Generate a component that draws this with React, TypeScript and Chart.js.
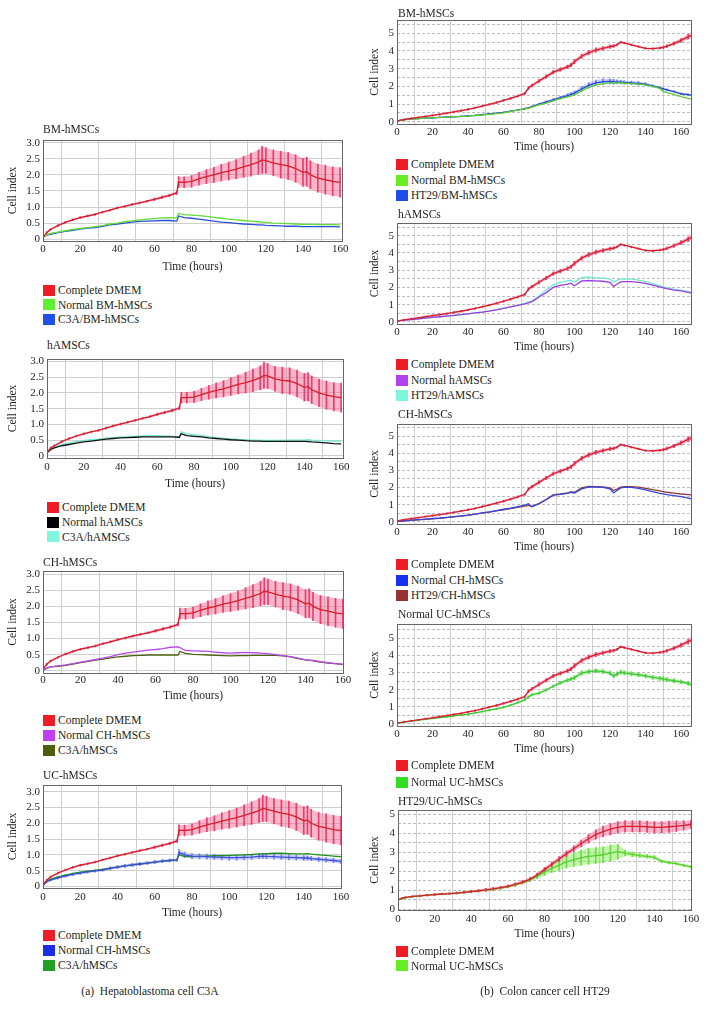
import React, { useEffect, useRef } from 'react';
import { Chart, registerables } from 'chart.js';
Chart.register(...registerables);

const FONT = "'Liberation Serif', 'Times New Roman', serif";
const TXT = '#231f20';

// ---------- tick labels ----------
const X_TICKS = [0, 20, 40, 60, 80, 100, 120, 140, 160];
const Y_TICKS_C3A = [0, 0.5, 1, 1.5, 2, 2.5, 3];
const Y_TICKS_HT29 = [0, 0.5, 1, 1.5, 2, 2.5, 3, 3.5, 4, 4.5, 5, 5.5];
const Y_TICKS_HT29_UC = [0, 0.5, 1, 1.5, 2, 2.5, 3, 3.5, 4, 4.5, 5];

// ---------- (a) Hepatoblastoma cell C3A ----------
const T_C3A = [0, 2, 4, 8, 12, 16, 20, 24, 28, 32, 36, 40, 44, 48, 52, 56, 60, 64, 68, 72, 73, 76, 80, 84, 88, 92, 96, 100, 104, 108, 112, 116, 118, 120, 124, 128, 132, 136, 140, 142, 144, 148, 152, 156, 160];

const C3A_CTRL = [0.05, 0.2, 0.3, 0.42, 0.52, 0.6, 0.67, 0.72, 0.77, 0.84, 0.9, 0.97, 1.02, 1.08, 1.13, 1.18, 1.24, 1.3, 1.36, 1.44, 1.78, 1.77, 1.8, 1.88, 1.95, 2.0, 2.07, 2.12, 2.18, 2.25, 2.32, 2.4, 2.47, 2.45, 2.38, 2.32, 2.28, 2.2, 2.08, 2.1, 2.0, 1.9, 1.85, 1.8, 1.77];
const C3A_CTRL_ERR = [0.02, 0.03, 0.03, 0.03, 0.03, 0.03, 0.03, 0.03, 0.03, 0.03, 0.03, 0.03, 0.03, 0.03, 0.03, 0.03, 0.04, 0.04, 0.04, 0.05, 0.17, 0.17, 0.18, 0.2, 0.22, 0.24, 0.26, 0.28, 0.3, 0.33, 0.36, 0.38, 0.42, 0.4, 0.4, 0.42, 0.42, 0.43, 0.44, 0.45, 0.44, 0.44, 0.45, 0.45, 0.46];
const C3A_CTRL_HA = [0.1, 0.25, 0.32, 0.45, 0.55, 0.63, 0.7, 0.76, 0.81, 0.88, 0.95, 1.01, 1.07, 1.13, 1.19, 1.25, 1.32, 1.38, 1.44, 1.52, 1.85, 1.85, 1.87, 1.95, 2.02, 2.08, 2.13, 2.2, 2.27, 2.33, 2.4, 2.48, 2.56, 2.54, 2.45, 2.4, 2.38, 2.3, 2.18, 2.2, 2.1, 2.0, 1.93, 1.88, 1.85];

const BM_NORMAL_C3A = [0.05, 0.13, 0.18, 0.22, 0.26, 0.3, 0.33, 0.36, 0.39, 0.42, 0.47, 0.5, 0.54, 0.57, 0.6, 0.62, 0.64, 0.66, 0.67, 0.66, 0.8, 0.76, 0.75, 0.73, 0.71, 0.68, 0.65, 0.62, 0.6, 0.58, 0.56, 0.54, 0.53, 0.52, 0.5, 0.49, 0.48, 0.47, 0.46, 0.46, 0.46, 0.45, 0.45, 0.45, 0.44];
const BM_C3A = [0.05, 0.12, 0.15, 0.2, 0.24, 0.27, 0.31, 0.34, 0.36, 0.4, 0.44, 0.47, 0.5, 0.53, 0.55, 0.56, 0.57, 0.58, 0.58, 0.56, 0.72, 0.67, 0.65, 0.62, 0.59, 0.56, 0.53, 0.51, 0.49, 0.47, 0.46, 0.44, 0.44, 0.43, 0.42, 0.41, 0.4, 0.4, 0.39, 0.39, 0.39, 0.39, 0.39, 0.39, 0.38];

const HA_NORMAL_C3A = [0.1, 0.2, 0.25, 0.32, 0.36, 0.4, 0.44, 0.47, 0.5, 0.53, 0.55, 0.57, 0.58, 0.59, 0.6, 0.6, 0.6, 0.6, 0.6, 0.59, 0.7, 0.64, 0.62, 0.6, 0.57, 0.55, 0.53, 0.51, 0.5, 0.48, 0.47, 0.47, 0.46, 0.46, 0.46, 0.46, 0.46, 0.46, 0.46, 0.45, 0.44, 0.43, 0.41, 0.39, 0.38];
const HA_C3A = [0.08, 0.22, 0.28, 0.36, 0.41, 0.45, 0.48, 0.51, 0.53, 0.56, 0.58, 0.6, 0.61, 0.62, 0.63, 0.64, 0.64, 0.63, 0.62, 0.6, 0.76, 0.7, 0.67, 0.64, 0.61, 0.58, 0.56, 0.54, 0.52, 0.51, 0.5, 0.5, 0.49, 0.49, 0.49, 0.5, 0.5, 0.5, 0.5, 0.51, 0.5, 0.49, 0.48, 0.47, 0.46];

const CH_NORMAL_C3A = [0.02, 0.08, 0.12, 0.15, 0.18, 0.22, 0.27, 0.31, 0.35, 0.39, 0.44, 0.5, 0.55, 0.58, 0.61, 0.64, 0.66, 0.69, 0.73, 0.74, 0.72, 0.63, 0.62, 0.61, 0.6, 0.58, 0.56, 0.55, 0.56, 0.57, 0.56, 0.55, 0.54, 0.53, 0.5, 0.47, 0.44, 0.39, 0.34, 0.33, 0.32, 0.28, 0.25, 0.22, 0.2];
const CH_C3A = [0.02, 0.08, 0.12, 0.14, 0.17, 0.21, 0.25, 0.29, 0.33, 0.36, 0.4, 0.43, 0.45, 0.47, 0.48, 0.49, 0.49, 0.49, 0.49, 0.49, 0.6, 0.54, 0.51, 0.5, 0.49, 0.48, 0.47, 0.46, 0.47, 0.47, 0.48, 0.48, 0.48, 0.48, 0.48, 0.46, 0.43, 0.38, 0.34, 0.33, 0.31, 0.27, 0.24, 0.22, 0.2];

const UC_NORMAL_C3A = [0.03, 0.15, 0.2, 0.27, 0.33, 0.38, 0.42, 0.46, 0.49, 0.52, 0.57, 0.61, 0.65, 0.68, 0.71, 0.74, 0.77, 0.8, 0.82, 0.84, 1.08, 1.0, 0.96, 0.95, 0.94, 0.93, 0.92, 0.91, 0.91, 0.92, 0.93, 0.95, 0.96, 0.95, 0.94, 0.93, 0.92, 0.91, 0.9, 0.9, 0.88, 0.86, 0.84, 0.82, 0.79];
const UC_NORMAL_C3A_ERR = [0.02, 0.03, 0.03, 0.04, 0.04, 0.04, 0.04, 0.04, 0.04, 0.04, 0.05, 0.05, 0.05, 0.05, 0.05, 0.05, 0.05, 0.05, 0.05, 0.05, 0.1, 0.09, 0.08, 0.08, 0.08, 0.08, 0.08, 0.08, 0.08, 0.08, 0.08, 0.08, 0.08, 0.08, 0.08, 0.08, 0.08, 0.08, 0.08, 0.07, 0.07, 0.07, 0.07, 0.07, 0.07];
const UC_C3A = [0.03, 0.17, 0.23, 0.3, 0.36, 0.41, 0.45, 0.48, 0.51, 0.54, 0.58, 0.62, 0.65, 0.68, 0.71, 0.74, 0.77, 0.8, 0.82, 0.84, 1.0, 0.95, 0.94, 0.95, 0.96, 0.97, 0.97, 0.98, 0.99, 1.0, 1.01, 1.03, 1.04, 1.04, 1.05, 1.05, 1.04, 1.03, 1.03, 1.04, 1.02, 1.0, 0.98, 0.96, 0.94];

// ---------- (b) Colon cancer cell HT29 ----------
const T_HT29 = [0, 4, 8, 12, 16, 20, 24, 28, 32, 36, 40, 44, 48, 52, 56, 60, 64, 68, 72, 74, 76, 80, 84, 88, 92, 96, 98, 100, 104, 108, 112, 116, 120, 122, 124, 126, 128, 132, 136, 140, 144, 148, 150, 152, 156, 160, 164, 166];

const HT29_CTRL = [0.05, 0.12, 0.18, 0.24, 0.3, 0.36, 0.42, 0.48, 0.55, 0.62, 0.7, 0.78, 0.88, 0.98, 1.08, 1.2, 1.32, 1.45, 1.6, 1.9, 2.05, 2.3, 2.55, 2.8, 2.95, 3.1, 3.2, 3.4, 3.7, 3.9, 4.05, 4.15, 4.25, 4.28, 4.35, 4.5, 4.45, 4.35, 4.25, 4.15, 4.13, 4.17, 4.2, 4.27, 4.42, 4.6, 4.8, 4.9];
const HT29_CTRL_ERR = [0.03, 0.04, 0.04, 0.04, 0.04, 0.05, 0.05, 0.05, 0.05, 0.05, 0.05, 0.05, 0.05, 0.05, 0.06, 0.06, 0.06, 0.06, 0.06, 0.08, 0.08, 0.1, 0.1, 0.1, 0.1, 0.1, 0.1, 0.12, 0.12, 0.12, 0.12, 0.1, 0.1, 0.08, 0.06, 0.05, 0.05, 0.05, 0.05, 0.05, 0.05, 0.06, 0.07, 0.08, 0.1, 0.12, 0.14, 0.15];

const BM_NORMAL_HT29 = [0.05, 0.1, 0.14, 0.17, 0.2, 0.22, 0.24, 0.26, 0.28, 0.3, 0.32, 0.35, 0.38, 0.42, 0.46, 0.5, 0.58, 0.65, 0.72, 0.76, 0.82, 0.95, 1.05, 1.18, 1.3, 1.4, 1.46, 1.52, 1.75, 1.95, 2.08, 2.15, 2.2, 2.2, 2.2, 2.19, 2.18, 2.15, 2.12, 2.08, 2.0, 1.88, 1.7, 1.65, 1.55, 1.42, 1.32, 1.28];
const BM_HT29 = [0.05, 0.12, 0.16, 0.18, 0.2, 0.22, 0.24, 0.26, 0.28, 0.3, 0.33, 0.36, 0.4, 0.44, 0.48, 0.53, 0.6, 0.66, 0.74, 0.78, 0.86, 1.0, 1.12, 1.24, 1.36, 1.48, 1.55, 1.62, 1.85, 2.05, 2.2, 2.27, 2.28, 2.26, 2.25, 2.24, 2.22, 2.2, 2.17, 2.12, 2.02, 1.92, 1.85, 1.8, 1.7, 1.58, 1.53, 1.5];
const BM_HT29_ERR = [0.02, 0.03, 0.03, 0.03, 0.03, 0.03, 0.03, 0.03, 0.03, 0.03, 0.03, 0.03, 0.03, 0.03, 0.03, 0.03, 0.04, 0.04, 0.04, 0.04, 0.04, 0.05, 0.06, 0.07, 0.08, 0.1, 0.1, 0.12, 0.15, 0.16, 0.16, 0.16, 0.15, 0.14, 0.12, 0.1, 0.1, 0.1, 0.1, 0.08, 0.07, 0.06, 0.06, 0.06, 0.05, 0.05, 0.05, 0.05];

const HA_NORMAL_HT29 = [0.05, 0.1, 0.14, 0.18, 0.22, 0.26, 0.3, 0.34, 0.38, 0.42, 0.47, 0.52, 0.57, 0.63, 0.7, 0.78, 0.87, 0.96, 1.05, 1.1, 1.18, 1.45, 1.7, 2.0, 2.12, 2.2, 2.25, 2.1, 2.38, 2.4, 2.38, 2.36, 2.3, 2.05, 2.2, 2.32, 2.34, 2.34, 2.3, 2.24, 2.14, 2.03, 1.98, 1.93, 1.85, 1.8, 1.72, 1.68];
const HA_HT29 = [0.05, 0.1, 0.14, 0.18, 0.22, 0.26, 0.3, 0.34, 0.38, 0.42, 0.47, 0.52, 0.57, 0.64, 0.71, 0.8, 0.88, 0.98, 1.08, 1.15, 1.22, 1.5, 1.85, 2.15, 2.3, 2.38, 2.42, 2.3, 2.58, 2.6, 2.57, 2.55, 2.48, 2.3, 2.42, 2.48, 2.5, 2.48, 2.42, 2.34, 2.22, 2.1, 2.04, 1.98, 1.9, 1.84, 1.76, 1.72];

const CH_NORMAL_HT29 = [0.02, 0.06, 0.1, 0.13, 0.16, 0.19, 0.22, 0.26, 0.3, 0.34, 0.39, 0.45, 0.52, 0.58, 0.65, 0.73, 0.8, 0.88, 0.97, 1.05, 0.88, 1.05, 1.28, 1.55, 1.6, 1.66, 1.72, 1.68, 1.92, 2.03, 2.02, 2.0, 1.92, 1.68, 1.82, 1.97, 2.0, 2.0, 1.95, 1.86, 1.76, 1.66, 1.62, 1.58, 1.52, 1.46, 1.38, 1.33];
const CH_HT29 = [0.02, 0.05, 0.08, 0.11, 0.14, 0.17, 0.2, 0.24, 0.28, 0.33, 0.38, 0.44, 0.5, 0.56, 0.63, 0.7, 0.77, 0.84, 0.91, 0.95, 0.88, 1.07, 1.3, 1.57, 1.62, 1.68, 1.74, 1.72, 1.98, 2.06, 2.05, 2.03, 1.97, 1.82, 1.9, 2.02, 2.05, 2.05, 2.02, 1.95, 1.87, 1.8, 1.76, 1.72, 1.67, 1.62, 1.58, 1.56];

const UC_NORMAL_HT29 = [0.02, 0.1, 0.16, 0.22, 0.27, 0.32, 0.37, 0.42, 0.47, 0.52, 0.57, 0.64, 0.72, 0.8, 0.88, 0.97, 1.1, 1.25, 1.4, 1.58, 1.7, 1.8, 1.98, 2.2, 2.4, 2.55, 2.62, 2.7, 2.97, 3.05, 3.1, 3.05, 2.96, 2.8, 2.92, 3.02, 2.98, 2.92, 2.87, 2.8, 2.72, 2.66, 2.63, 2.58, 2.52, 2.45, 2.36, 2.3];
const UC_NORMAL_HT29_ERR = [0.02, 0.03, 0.03, 0.03, 0.03, 0.03, 0.03, 0.04, 0.04, 0.04, 0.04, 0.04, 0.04, 0.05, 0.05, 0.05, 0.05, 0.05, 0.06, 0.06, 0.07, 0.08, 0.08, 0.08, 0.09, 0.1, 0.1, 0.12, 0.13, 0.13, 0.12, 0.12, 0.12, 0.12, 0.12, 0.12, 0.12, 0.12, 0.12, 0.12, 0.12, 0.12, 0.12, 0.12, 0.12, 0.12, 0.12, 0.12];

const T_HT29_UC = [0, 2, 4, 8, 12, 16, 20, 24, 28, 32, 36, 40, 44, 48, 52, 56, 60, 64, 68, 72, 76, 80, 84, 88, 92, 96, 100, 104, 108, 112, 116, 120, 124, 128, 132, 136, 140, 144, 148, 152, 156, 160];
const HT29_UC_CTRL = [0.5, 0.57, 0.62, 0.67, 0.7, 0.74, 0.77, 0.8, 0.82, 0.85, 0.89, 0.93, 0.97, 1.02, 1.07, 1.13, 1.2, 1.3, 1.42, 1.57, 1.8, 2.08, 2.36, 2.64, 2.92, 3.18, 3.45, 3.7, 3.92, 4.08, 4.2, 4.3, 4.35, 4.35, 4.35, 4.33, 4.3, 4.3, 4.33, 4.36, 4.4, 4.45];
const HT29_UC_CTRL_ERR = [0.03, 0.04, 0.04, 0.04, 0.05, 0.05, 0.05, 0.05, 0.05, 0.06, 0.06, 0.07, 0.07, 0.08, 0.08, 0.08, 0.08, 0.09, 0.09, 0.1, 0.1, 0.12, 0.12, 0.13, 0.14, 0.15, 0.18, 0.22, 0.25, 0.28, 0.3, 0.3, 0.3, 0.3, 0.3, 0.3, 0.3, 0.3, 0.3, 0.28, 0.25, 0.22];
const HT29_UC_NORMAL = [0.48, 0.55, 0.6, 0.66, 0.7, 0.74, 0.77, 0.8, 0.82, 0.85, 0.88, 0.92, 0.96, 1.0, 1.05, 1.11, 1.18, 1.28, 1.4, 1.53, 1.72, 1.95, 2.15, 2.32, 2.48, 2.6, 2.7, 2.78, 2.82, 2.86, 2.95, 3.02, 2.95, 2.88, 2.82, 2.78, 2.72, 2.52, 2.45, 2.4, 2.3, 2.22];
const HT29_UC_NORMAL_ERR = [0.02, 0.03, 0.03, 0.03, 0.03, 0.03, 0.03, 0.03, 0.03, 0.03, 0.03, 0.04, 0.04, 0.04, 0.04, 0.04, 0.05, 0.06, 0.07, 0.08, 0.12, 0.18, 0.22, 0.28, 0.32, 0.36, 0.4, 0.42, 0.42, 0.42, 0.42, 0.4, 0.15, 0.12, 0.1, 0.1, 0.1, 0.08, 0.07, 0.07, 0.07, 0.07];

// ---------- styles ----------
const RED = '#ee1c24';
const RED_LINE = '#d81e2c';
const RED_BAND = 'rgba(243,95,135,0.45)';
const RED_BAR = 'rgba(228,40,95,0.85)';

type Series = { label: string; legend: string; line: string; values: number[]; err?: number[]; band?: string; bar?: string };
type PanelCfg = {
  title: string; times: number[]; xMax: number; yMin: number; yMax: number; yTicks: number[]; decimals: boolean; yDash: boolean;
  canvasLeft: number; box: { left: number; right: number; top: number; bottom: number };
  xLabelY: number; xTitleY: number; titleX: number; titleY: number; legendX: number; legendY: number[]; series: Series[];
};

const ctrlC3A = (values: number[]): Series => ({ label: 'Complete DMEM', legend: RED, line: RED_LINE, values, err: C3A_CTRL_ERR, band: RED_BAND, bar: RED_BAR });
const ctrlHT29 = (values: number[], err: number[]): Series => ({ label: 'Complete DMEM', legend: RED, line: RED_LINE, values, err, band: RED_BAND, bar: RED_BAR });

const PANELS: PanelCfg[] = [
  {
    title: 'BM-hMSCs', times: T_C3A, xMax: 161, yMin: -0.06, yMax: 3.09, yTicks: Y_TICKS_C3A, decimals: true, yDash: false,
    canvasLeft: 6, box: { left: 43, right: 342, top: 140, bottom: 241 }, xLabelY: 249, xTitleY: 267, titleX: 43, titleY: 129,
    legendX: 43, legendY: [290, 304.5, 319],
    series: [
      ctrlC3A(C3A_CTRL),
      { label: 'Normal BM-hMSCs', legend: '#5ef032', line: '#62dc38', values: BM_NORMAL_C3A },
      { label: 'C3A/BM-hMSCs', legend: '#2150e6', line: '#2a4ed8', values: BM_C3A },
    ],
  },
  {
    title: 'hAMSCs', times: T_C3A, xMax: 161, yMin: -0.07, yMax: 3.08, yTicks: Y_TICKS_C3A, decimals: true, yDash: false,
    canvasLeft: 6, box: { left: 47, right: 343, top: 359, bottom: 458 }, xLabelY: 467, xTitleY: 484, titleX: 47, titleY: 345,
    legendX: 47, legendY: [507, 522, 536.5],
    series: [
      ctrlC3A(C3A_CTRL_HA),
      { label: 'Normal hAMSCs', legend: '#000000', line: '#111111', values: HA_NORMAL_C3A },
      { label: 'C3A/hAMSCs', legend: '#7ff7dc', line: '#74e8cf', values: HA_C3A },
    ],
  },
  {
    title: 'CH-hMSCs', times: T_C3A, xMax: 160, yMin: -0.07, yMax: 3.1, yTicks: Y_TICKS_C3A, decimals: true, yDash: false,
    canvasLeft: 6, box: { left: 43, right: 343, top: 571, bottom: 673 }, xLabelY: 680, xTitleY: 696, titleX: 43, titleY: 562,
    legendX: 43, legendY: [720, 735, 750],
    series: [
      ctrlC3A(C3A_CTRL),
      { label: 'Normal CH-hMSCs', legend: '#c040f0', line: '#b84ae8', values: CH_NORMAL_C3A },
      { label: 'C3A/hMSCs', legend: '#4d5e0e', line: '#4f6012', values: CH_C3A },
    ],
  },
  {
    title: 'UC-hMSCs', times: T_C3A, xMax: 160, yMin: -0.05, yMax: 3.21, yTicks: Y_TICKS_C3A, decimals: true, yDash: false,
    canvasLeft: 6, box: { left: 43, right: 341, top: 785, bottom: 888 }, xLabelY: 897, xTitleY: 913, titleX: 43, titleY: 775,
    legendX: 43, legendY: [935, 950, 965],
    series: [
      ctrlC3A(C3A_CTRL),
      { label: 'Normal CH-hMSCs', legend: '#1a2ee6', line: '#3a4ee0', values: UC_NORMAL_C3A, err: UC_NORMAL_C3A_ERR, band: 'rgba(120,130,240,0.35)', bar: 'rgba(80,95,230,0.7)' },
      { label: 'C3A/hMSCs', legend: '#22a022', line: '#1f8f1f', values: UC_C3A },
    ],
  },
  {
    title: 'BM-hMSCs', times: T_HT29, xMax: 165.6, yMin: -0.13, yMax: 5.75, yTicks: Y_TICKS_HT29, decimals: false, yDash: true,
    canvasLeft: 368, box: { left: 397, right: 691, top: 20, bottom: 124 }, xLabelY: 132, xTitleY: 147, titleX: 398, titleY: 13,
    legendX: 396, legendY: [164, 180, 195],
    series: [
      ctrlHT29(HT29_CTRL, HT29_CTRL_ERR),
      { label: 'Normal BM-hMSCs', legend: '#66ee22', line: '#5ccf30', values: BM_NORMAL_HT29 },
      { label: 'HT29/BM-hMSCs', legend: '#1f4fe8', line: '#2346d8', values: BM_HT29, err: BM_HT29_ERR, band: 'rgba(110,130,240,0.35)', bar: 'rgba(70,95,230,0.7)' },
    ],
  },
  {
    title: 'hAMSCs', times: T_HT29, xMax: 165.6, yMin: -0.12, yMax: 5.74, yTicks: Y_TICKS_HT29, decimals: false, yDash: true,
    canvasLeft: 368, box: { left: 397, right: 691, top: 223, bottom: 324 }, xLabelY: 332, xTitleY: 347, titleX: 398, titleY: 214,
    legendX: 396, legendY: [364, 380, 395],
    series: [
      ctrlHT29(HT29_CTRL, HT29_CTRL_ERR),
      { label: 'Normal hAMSCs', legend: '#b040f0', line: '#9a3ee0', values: HA_NORMAL_HT29 },
      { label: 'HT29/hAMSCs', legend: '#7ff5da', line: '#72ead0', values: HA_HT29 },
    ],
  },
  {
    title: 'CH-hMSCs', times: T_HT29, xMax: 165.6, yMin: -0.13, yMax: 5.7, yTicks: Y_TICKS_HT29, decimals: false, yDash: true,
    canvasLeft: 368, box: { left: 397, right: 691, top: 424, bottom: 524 }, xLabelY: 532, xTitleY: 547, titleX: 398, titleY: 414,
    legendX: 396, legendY: [564, 580, 595],
    series: [
      ctrlHT29(HT29_CTRL, HT29_CTRL_ERR),
      { label: 'Normal CH-hMSCs', legend: '#1a30f0', line: '#3448e0', values: CH_NORMAL_HT29 },
      { label: 'HT29/CH-hMSCs', legend: '#993333', line: '#8e3a3a', values: CH_HT29 },
    ],
  },
  {
    title: 'Normal UC-hMSCs', times: T_HT29, xMax: 165.6, yMin: -0.12, yMax: 5.83, yTicks: Y_TICKS_HT29, decimals: false, yDash: true,
    canvasLeft: 368, box: { left: 397, right: 691, top: 624, bottom: 726 }, xLabelY: 734, xTitleY: 749, titleX: 398, titleY: 614,
    legendX: 396, legendY: [765, 782],
    series: [
      ctrlHT29(HT29_CTRL, HT29_CTRL_ERR),
      { label: 'Normal UC-hMSCs', legend: '#33dd22', line: '#3cc832', values: UC_NORMAL_HT29, err: UC_NORMAL_HT29_ERR, band: 'rgba(110,225,90,0.4)', bar: 'rgba(70,200,60,0.75)' },
    ],
  },
  {
    title: 'HT29/UC-hMSCs', times: T_HT29_UC, xMax: 160, yMin: -0.04, yMax: 5.21, yTicks: Y_TICKS_HT29_UC, decimals: false, yDash: true,
    canvasLeft: 368, box: { left: 398, right: 691, top: 810, bottom: 910 }, xLabelY: 919, xTitleY: 934, titleX: 398, titleY: 801,
    legendX: 396, legendY: [951, 965.5],
    series: [
      ctrlHT29(HT29_UC_CTRL, HT29_UC_CTRL_ERR),
      { label: 'Normal UC-hMSCs', legend: '#66ee22', line: '#56d02a', values: HT29_UC_NORMAL, err: HT29_UC_NORMAL_ERR, band: 'rgba(120,235,70,0.45)', bar: 'rgba(90,215,40,0.8)' },
    ],
  },
];

const PAD_TOP = 6;
const PAD_RIGHT = 12;
const TITLE_SIZE = 11.5;
const TICK_SIZE = 11;

const framePlugin = {
  id: 'frame',
  afterDatasetsDraw(chart: any) {
    const { ctx, chartArea: a } = chart;
    ctx.save();
    const l = Math.round(a.left) + 0.5, t = Math.round(a.top) + 0.5;
    const w = Math.round(a.right) - Math.round(a.left), h = Math.round(a.bottom) - Math.round(a.top);
    ctx.lineWidth = 1;
    ctx.strokeStyle = '#9a9a9a';
    ctx.strokeRect(l, t, w, h);
    ctx.setLineDash([1, 1]);
    ctx.strokeStyle = '#333';
    ctx.strokeRect(l, t, w, h);
    ctx.restore();
  },
};

function buildDatasets(p: PanelCfg) {
  const ds: any[] = [];
  p.series.forEach((s) => {
    ds.push({
      type: 'line', label: s.label, data: p.times.map((t, i) => ({ x: t, y: s.values[i] })),
      borderColor: s.line, borderWidth: 1.3, pointRadius: 0, tension: 0, fill: false, order: 0,
    });
  });
  p.series.forEach((s) => {
    if (!s.err) return;
    const err = s.err;
    ds.push({
      type: 'line', data: p.times.map((t, i) => ({ x: t, y: s.values[i] + err[i] })),
      borderColor: 'rgba(0,0,0,0)', borderWidth: 0, pointRadius: 0, tension: 0, fill: false, order: 2,
    });
    ds.push({
      type: 'line', data: p.times.map((t, i) => ({ x: t, y: s.values[i] - err[i] })),
      borderColor: 'rgba(0,0,0,0)', borderWidth: 0, pointRadius: 0, tension: 0, fill: '-1', backgroundColor: s.band, order: 2,
    });
    ds.push({
      type: 'bar', data: p.times.map((t, i) => ({ x: t, y: [s.values[i] - err[i], s.values[i] + err[i]] })),
      backgroundColor: s.bar, borderWidth: 0, grouped: false, barThickness: 1, maxBarThickness: 1, order: 1,
    });
  });
  return ds;
}

function Panel({ p }: { p: PanelCfg }) {
  const ref = useRef<HTMLCanvasElement>(null);
  const cx = p.canvasLeft;
  const cy = p.box.top - PAD_TOP;
  const wy = p.box.left - cx;
  const hx = Math.round(p.xTitleY + (TITLE_SIZE * 1.2) / 2 - p.box.bottom);
  const cw = p.box.right + PAD_RIGHT - cx;
  const ch = p.box.bottom + hx - cy;
  const tickPad = Math.max(0, p.xLabelY - p.box.bottom - (TICK_SIZE * 1.2) / 2);

  useEffect(() => {
    const chart = new Chart(ref.current as HTMLCanvasElement, {
      type: 'line',
      data: { datasets: buildDatasets(p) },
      plugins: [framePlugin],
      options: {
        animation: false,
        responsive: false,
        devicePixelRatio: 1,
        events: [],
        layout: { padding: { left: 0, right: PAD_RIGHT, top: PAD_TOP, bottom: 0 } },
        plugins: { legend: { display: false }, tooltip: { enabled: false }, title: { display: false } },
        scales: {
          x: {
            type: 'linear', min: 0, max: p.xMax, bounds: 'data', offset: false,
            afterBuildTicks: (s: any) => { s.ticks = X_TICKS.map((v) => ({ value: v })); },
            afterFit: (s: any) => { s.height = hx; s.paddingLeft = 0; s.paddingRight = 0; },
            ticks: { autoSkip: false, maxRotation: 0, padding: tickPad, color: TXT, font: { family: FONT, size: TICK_SIZE }, callback: (v: any) => String(v) },
            grid: { color: '#cfcfcf', drawTicks: false, lineWidth: 1 },
            border: { display: false },
            title: { display: true, text: 'Time (hours)', color: TXT, padding: 0, font: { family: FONT, size: TITLE_SIZE } },
          },
          y: {
            type: 'linear', min: p.yMin, max: p.yMax, bounds: 'data',
            afterBuildTicks: (s: any) => { s.ticks = p.yTicks.map((v) => ({ value: v })); },
            afterFit: (s: any) => { s.width = wy; s.paddingTop = 0; s.paddingBottom = 0; },
            ticks: {
              autoSkip: false, padding: 3, color: TXT, font: { family: FONT, size: TICK_SIZE },
              callback: (v: any) => {
                const n = Number(v);
                if (p.decimals) return n === 0 ? '0' : n.toFixed(1);
                return Number.isInteger(n) ? String(n) : '';
              },
            },
            grid: { color: p.yDash ? '#bdbdbd' : '#cfcfcf', drawTicks: false, lineWidth: 1 },
            border: { display: false, dash: p.yDash ? [3, 2] : [] },
            title: { display: true, text: 'Cell index', color: TXT, padding: 0, font: { family: FONT, size: TITLE_SIZE } },
          },
        },
      } as any,
    });
    return () => chart.destroy();
  }, []);

  const textStyle: React.CSSProperties = { position: 'absolute', fontFamily: FONT, fontSize: TITLE_SIZE, color: TXT, lineHeight: '14px', height: 14, whiteSpace: 'nowrap' };
  return (
    <>
      <canvas ref={ref} width={cw} height={ch} style={{ position: 'absolute', left: cx, top: cy, width: cw, height: ch }} />
      <div style={{ ...textStyle, left: p.titleX, top: p.titleY - 7 }}>{p.title}</div>
      {p.series.map((s, i) => (
        <div key={i} style={{ ...textStyle, left: p.legendX, top: p.legendY[i] - 7, display: 'flex', alignItems: 'center' }}>
          <span style={{ display: 'inline-block', width: 12, height: 11, background: s.legend, marginRight: 3 }} />
          <span>{s.label}</span>
        </div>
      ))}
    </>
  );
}

export default function App() {
  const cap: React.CSSProperties = { position: 'absolute', top: 984, fontFamily: FONT, fontSize: TITLE_SIZE, color: TXT, lineHeight: '14px', whiteSpace: 'pre', transform: 'translateX(-50%)' };
  return (
    <div style={{ position: 'absolute', left: 0, top: 0, width: 706, height: 1017, background: '#fff', overflow: 'hidden' }}>
      {PANELS.map((p, i) => <Panel key={i} p={p} />)}
      <div style={{ ...cap, left: 150 }}>{'(a)\u2002Hepatoblastoma cell C3A'}</div>
      <div style={{ ...cap, left: 545 }}>{'(b)\u2002Colon cancer cell HT29'}</div>
    </div>
  );
}
